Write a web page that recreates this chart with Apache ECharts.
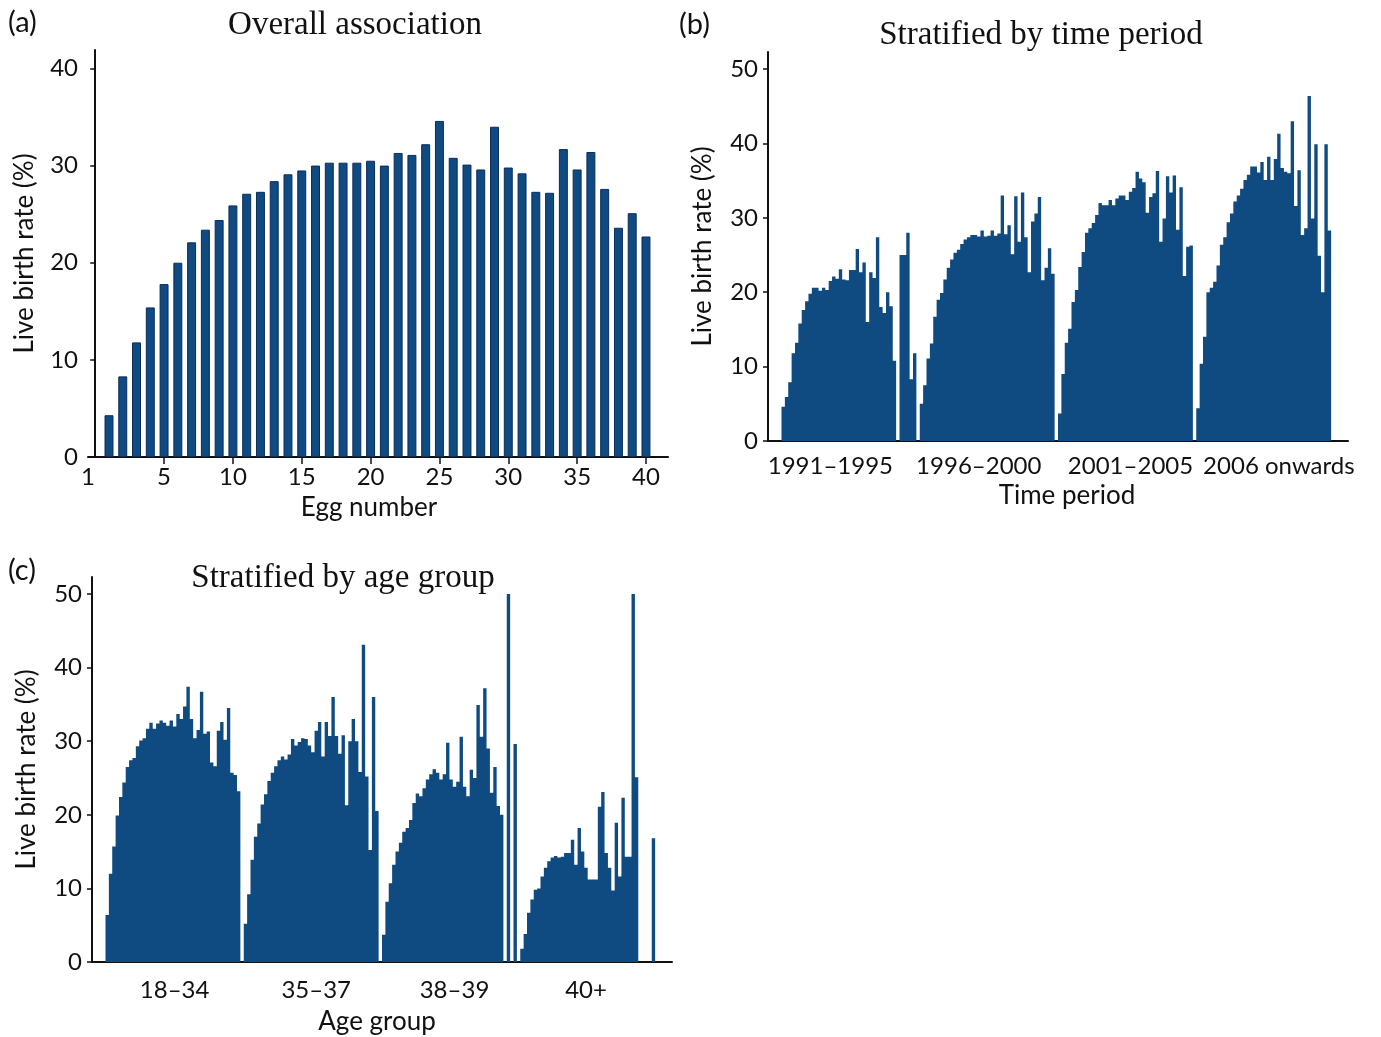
<!DOCTYPE html>
<html>
<head>
<meta charset="utf-8">
<script src="https://cdn.jsdelivr.net/npm/echarts@6/dist/echarts.min.js"></script>
<style>
  html, body { margin: 0; padding: 0; background: #fff; }
  #chart { width: 1381px; height: 1037px; }
</style>
</head>
<body>
<div id="chart"></div>
<script>
// ---------- DATA ----------
// (a) Overall association: live birth rate (%) by egg number 1..40
const eggNumbers = Array.from({length: 40}, (_, i) => i + 1);
const eggRates = [4.3, 8.3, 11.8, 15.4, 17.8, 20.0, 22.1, 23.4, 24.4, 25.9,
                  27.1, 27.3, 28.4, 29.1, 29.5, 30.0, 30.3, 30.3, 30.3, 30.5,
                  30.0, 31.3, 31.1, 32.2, 34.6, 30.8, 30.1, 29.6, 34.0, 29.8,
                  29.2, 27.3, 27.2, 31.7, 29.6, 31.4, 27.6, 23.6, 25.1, 22.7];
const eggTickValues = [5, 10, 15, 20, 25, 30, 35, 40];
const eggFirstTickLabel = '1';

// (b) Stratified by time period: 40 egg numbers per period
const timePeriods = ['1991\u20131995', '1996\u20132000', '2001\u20132005', '2006 onwards'];
const period1991 = [4.6, 5.9, 7.9, 11.8, 13.2, 15.8, 17.6, 18.8, 19.8, 20.6,
                    20.6, 20.2, 20.6, 20.3, 21.5, 22.1, 21.8, 23.1, 21.7, 21.6,
                    23.0, 23.0, 25.8, 22.7, 24.0, 16.0, 22.7, 21.9, 27.4, 18.0,
                    17.2, 20.0, 18.1, 10.8, 0, 25.0, 25.0, 28.0, 8.3, 11.8];
const period1996 = [5.0, 7.5, 11.1, 13.1, 16.7, 19.0, 19.9, 21.7, 23.3, 24.4,
                    25.3, 25.7, 26.5, 27.1, 27.4, 27.7, 27.7, 27.5, 28.3, 27.5,
                    27.6, 28.3, 27.6, 27.9, 33.0, 27.8, 29.0, 25.1, 32.9, 26.8,
                    33.4, 27.4, 22.7, 29.5, 30.6, 32.8, 21.6, 23.3, 25.9, 22.5];
const period2001 = [3.7, 9.0, 13.2, 15.1, 18.7, 20.3, 23.4, 25.4, 28.0, 28.6,
                    29.3, 30.4, 32.0, 31.7, 31.7, 32.4, 31.7, 32.6, 33.0, 33.0,
                    32.4, 33.5, 34.0, 36.2, 35.3, 34.8, 30.7, 32.8, 33.3, 36.3,
                    26.8, 29.9, 35.6, 33.4, 35.7, 28.4, 34.1, 22.2, 26.1, 26.3];
const period2006 = [4.4, 10.4, 14.0, 20.0, 20.6, 21.4, 23.6, 26.4, 27.4, 29.4,
                    30.6, 32.2, 33.0, 33.9, 35.1, 35.8, 36.9, 36.9, 36.1, 37.5,
                    35.1, 38.2, 35.1, 37.9, 41.3, 36.7, 36.2, 36.0, 43.0, 31.6,
                    36.4, 27.7, 28.6, 46.4, 29.9, 39.9, 24.9, 20.0, 39.9, 28.3];

// (c) Stratified by age group: 40 egg numbers per age group
const ageGroups = ['18\u201334', '35\u201337', '38\u201339', '40+'];
const age1834 = [6.4, 12.0, 15.7, 19.9, 22.4, 24.4, 26.5, 27.4, 27.7, 29.3,
                 30.1, 30.4, 31.7, 32.5, 31.7, 32.4, 32.8, 32.5, 32.1, 32.8,
                 32.0, 33.7, 33.0, 34.7, 37.4, 33.0, 30.4, 31.5, 36.7, 31.0,
                 31.3, 27.1, 26.6, 31.4, 32.6, 30.2, 34.5, 25.7, 25.4, 23.2];
const age3537 = [5.2, 9.2, 13.9, 17.0, 18.8, 21.4, 22.8, 24.6, 25.7, 26.6,
                 27.4, 27.9, 27.5, 28.2, 30.3, 29.4, 29.9, 30.4, 30.3, 29.4,
                 28.5, 31.4, 32.6, 27.9, 32.6, 30.7, 36.0, 30.7, 28.3, 30.8,
                 21.3, 30.0, 33.0, 30.0, 25.8, 43.1, 25.2, 15.2, 36.0, 20.5];
const age3839 = [3.7, 8.2, 10.7, 13.2, 15.0, 16.2, 17.7, 18.2, 19.3, 21.6,
                 22.9, 22.5, 23.6, 24.8, 25.5, 26.2, 25.7, 24.8, 25.5, 29.8,
                 24.8, 23.8, 24.5, 30.6, 23.8, 22.5, 26.1, 25.0, 34.9, 30.6,
                 37.2, 29.0, 23.0, 26.5, 21.2, 20.0, 0, 50.0, 0, 29.6];
const age40 = [1.8, 3.8, 6.7, 8.5, 9.8, 10.0, 11.6, 12.8, 13.7, 14.2,
               14.4, 14.2, 14.3, 14.8, 14.8, 16.6, 13.2, 18.2, 15.0, 12.8,
               11.2, 11.2, 11.2, 21.1, 23.1, 14.8, 12.8, 9.7, 18.9, 11.6,
               22.3, 14.3, 14.3, 50.0, 25.1, 0, 0, 0, 0, 16.8];

const rateTicks40 = [0, 10, 20, 30, 40];
const rateTicks50 = [0, 10, 20, 30, 40, 50];

// ---------- LAYOUT ----------
const BAR = '#0f4a80';
const INK = '#111111';
const SANS = 'Lato, "Noto Sans", sans-serif';
const SERIF = '"Liberation Serif", "DejaVu Serif", serif';

// stratified panels: a slot axis; each group = 40 bar slots + 1 empty slot
const N_SLOTS = 172, FIRST_SLOT = 4, GROUP_SLOTS = 41;
function slotSeries(groups) {
  const out = new Array(N_SLOTS).fill(0);
  groups.forEach((g, gi) => g.forEach((v, i) => {
    out[FIRST_SLOT + gi * GROUP_SLOTS + i] = v;
  }));
  return out;
}
function slotLabels(names, slots) {
  const out = new Array(N_SLOTS).fill('');
  names.forEach((n, k) => { out[slots[k]] = n; });
  return out;
}
const catsB = slotLabels(timePeriods, [18, 62, 107, 151]);
const catsC = slotLabels(ageGroups, [24, 66, 107, 146]);

const A_MIN = -0.525, A_MAX = 41.6;

const axisLine = { show: true, lineStyle: { color: INK, width: 2 } };
const tickLabel = { color: INK, fontFamily: SANS, fontSize: 24 };
function nameStyle(padding) {
  return { color: INK, fontFamily: SANS, fontSize: 26, padding: padding };
}

function yAxis(grid, max, ticks, gap) {
  return {
    type: 'value', gridIndex: grid, min: 0, max: max,
    axisLine: axisLine,
    axisTick: { show: true, length: 5, customValues: ticks, lineStyle: { color: INK, width: 1.5 } },
    axisLabel: Object.assign({ margin: 10, customValues: ticks }, tickLabel),
    splitLine: { show: false },
    name: 'Live birth rate (%)', nameLocation: 'middle', nameGap: gap,
    nameTextStyle: nameStyle([0, 0, 0, 0])
  };
}

function slotAxis(grid, cats, margin, name, gap, padding) {
  return {
    type: 'category', gridIndex: grid, data: cats, boundaryGap: true,
    axisLine: axisLine,
    axisTick: { show: false },
    axisLabel: Object.assign({ margin: margin, interval: 0, hideOverlap: false }, tickLabel),
    splitLine: { show: false },
    name: name, nameLocation: 'middle', nameGap: gap, nameTextStyle: nameStyle(padding)
  };
}

const option = {
  animation: false,
  backgroundColor: '#ffffff',
  grid: [
    { left: 88, top: 50, width: 580, height: 407 },
    { left: 768, top: 52, width: 580, height: 389 },
    { left: 92, top: 577, width: 580, height: 385 }
  ],
  xAxis: [
    {
      type: 'value', gridIndex: 0, min: A_MIN, max: A_MAX,
      axisLine: axisLine,
      axisTick: { show: true, length: 7, customValues: eggTickValues, lineStyle: { color: INK, width: 1.5 } },
      axisLabel: Object.assign({
        margin: 8,
        customValues: [A_MIN].concat(eggTickValues),
        formatter: v => (v === A_MIN ? eggFirstTickLabel : String(v))
      }, tickLabel),
      splitLine: { show: false },
      name: 'Egg number', nameLocation: 'middle', nameGap: 38, nameTextStyle: nameStyle([0, 18, 0, 0])
    },
    slotAxis(1, catsB, 13, 'Time period', 42, [0, 0, 0, 18]),
    slotAxis(2, catsC, 16, 'Age group', 47, [0, 10, 0, 0])
  ],
  yAxis: [
    yAxis(0, 41.9, rateTicks40, 50),
    yAxis(1, 52.3, rateTicks50, 52),
    yAxis(2, 52.3, rateTicks50, 52)
  ],
  series: [
    {
      type: 'bar', xAxisIndex: 0, yAxisIndex: 0,
      data: eggNumbers.map((n, i) => [n, eggRates[i]]),
      barWidth: '65%',
      itemStyle: { color: BAR, borderColor: '#0b2c5c', borderWidth: 1 }
    },
    {
      type: 'bar', xAxisIndex: 1, yAxisIndex: 1,
      data: slotSeries([period1991, period1996, period2001, period2006]),
      barCategoryGap: '0%',
      large: true, largeThreshold: 50,
      itemStyle: { color: BAR }
    },
    {
      type: 'bar', xAxisIndex: 2, yAxisIndex: 2,
      data: slotSeries([age1834, age3537, age3839, age40]),
      barCategoryGap: '0%',
      large: true, largeThreshold: 50,
      itemStyle: { color: BAR }
    }
  ],
  graphic: [
    { type: 'text', left: 8, top: 8, style: { text: '(a)', fill: INK, font: '29px ' + SANS } },
    { type: 'text', left: 679, top: 10, style: { text: '(b)', fill: INK, font: '29px ' + SANS } },
    { type: 'text', left: 8, top: 556, style: { text: '(c)', fill: INK, font: '29px ' + SANS } },
    { type: 'text', x: 355, y: 25, style: { text: 'Overall association', fill: INK, font: '33px ' + SERIF, textAlign: 'center', textVerticalAlign: 'middle' } },
    { type: 'text', x: 1041, y: 35, style: { text: 'Stratified by time period', fill: INK, font: '33px ' + SERIF, textAlign: 'center', textVerticalAlign: 'middle' } },
    { type: 'text', x: 343, y: 578, style: { text: 'Stratified by age group', fill: INK, font: '33px ' + SERIF, textAlign: 'center', textVerticalAlign: 'middle' } }
  ]
};

const chart = echarts.init(document.getElementById('chart'), null, { renderer: 'canvas' });
chart.setOption(option);
</script>
</body>
</html>
